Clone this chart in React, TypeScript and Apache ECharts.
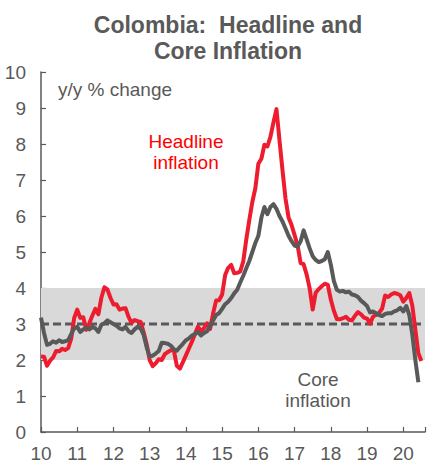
import React, { useEffect, useRef } from "react";
import * as echarts from "echarts";

// Monthly y/y inflation, starting January 2010
const startYear = 2010;

const headline = [
  2.10, 2.09, 1.84, 1.98, 2.07, 2.25, 2.24, 2.31, 2.28, 2.33, 2.59, 3.17,
  3.40, 3.17, 3.19, 2.84, 3.02, 3.23, 3.42, 3.27, 3.73, 4.02, 3.96, 3.73,
  3.54, 3.55, 3.40, 3.43, 3.44, 3.20, 3.03, 3.11, 3.08, 3.06, 2.77, 2.44,
  2.00, 1.83, 1.91, 2.02, 2.00, 2.16, 2.22, 2.27, 2.27, 1.84, 1.76, 1.94,
  2.13, 2.32, 2.51, 2.72, 2.93, 2.79, 2.89, 3.02, 2.86, 3.29, 3.65, 3.66,
  3.82, 4.36, 4.56, 4.64, 4.41, 4.42, 4.46, 4.74, 5.35, 5.89, 6.39, 6.77,
  7.45, 7.59, 7.98, 7.93, 8.20, 8.60, 8.97, 8.10, 7.27, 6.48, 5.96, 5.75,
  5.47, 5.18, 4.69, 4.66, 4.37, 3.99, 3.40, 3.87, 3.97, 4.05, 4.12, 4.09,
  3.68, 3.37, 3.14, 3.13, 3.16, 3.20, 3.12, 3.10, 3.23, 3.33, 3.27, 3.18,
  3.15, 3.01, 3.21, 3.25, 3.31, 3.43, 3.79, 3.75, 3.82, 3.86, 3.84, 3.80,
  3.62, 3.72, 3.86, 3.51, 2.85, 2.19, 1.97,
];

const core = [
  3.18, 2.75, 2.42, 2.45, 2.52, 2.48, 2.55, 2.50, 2.52, 2.55, 2.72, 2.88,
  2.92, 2.78, 2.85, 2.90, 2.85, 2.92, 2.88, 2.78, 2.98, 3.02, 3.10, 3.05,
  3.00, 2.95, 2.88, 2.85, 2.92, 2.80, 2.75, 2.85, 2.92, 2.88, 2.70, 2.35,
  2.10, 2.12, 2.18, 2.25, 2.48, 2.47, 2.45, 2.40, 2.30, 2.26, 2.36, 2.45,
  2.55, 2.60, 2.68, 2.72, 2.78, 2.68, 2.75, 2.80, 2.95, 3.10, 3.25, 3.30,
  3.42, 3.55, 3.62, 3.72, 3.85, 3.95, 4.15, 4.34, 4.55, 4.75, 5.00, 5.25,
  5.45, 5.95, 6.25, 6.05, 6.25, 6.33, 6.20, 6.00, 5.85, 5.65, 5.45, 5.30,
  5.18, 5.15, 5.30, 5.60, 5.35, 5.10, 4.88, 4.78, 4.72, 4.75, 4.80, 5.00,
  4.65, 4.20, 3.95, 3.90, 3.92, 3.88, 3.90, 3.82, 3.80, 3.75, 3.65, 3.58,
  3.50, 3.32, 3.35, 3.30, 3.25, 3.22, 3.28, 3.30, 3.30, 3.35, 3.38, 3.45,
  3.35, 3.50, 3.25, 2.70, 2.00, 1.38,
];

// Central bank target: 3% midpoint inside a 2–4% range
const targetBand = [2, 4];
const targetMid = 3;

const xMin = 2010;
const xMax = 2020.6;

const GRAY = "#595959";
const RED_LINE = "#ed1c2e";
const RED_TEXT = "#ff0000";
const FONT = "'Liberation Sans', Arial, sans-serif";

const toPoints = (vals: number[]) =>
  vals.map((v, i) => [startYear + i / 12, v]);

export default function App() {
  const ref = useRef<HTMLDivElement>(null);

  useEffect(() => {
    if (!ref.current) return;
    const chart = echarts.init(ref.current, undefined, { renderer: "svg" });

    chart.setOption({
      animation: false,
      backgroundColor: "#ffffff",
      grid: { left: 41, right: 0, top: 72, bottom: 30 },
      xAxis: {
        type: "value",
        min: xMin,
        max: xMax,
        interval: 1,
        axisLine: { show: true, onZero: false, lineStyle: { color: GRAY, width: 1.5 } },
        axisTick: { show: true, inside: true, length: 5, lineStyle: { color: GRAY, width: 1.2 } },
        axisLabel: {
          color: GRAY,
          fontSize: 19,
          fontFamily: FONT,
          margin: 12,
          formatter: (v: number) =>
            Math.abs(v - Math.round(v)) < 1e-6 ? String(Math.round(v) - 2000) : "",
        },
        splitLine: { show: false },
      },
      yAxis: {
        type: "value",
        min: 0,
        max: 10,
        interval: 1,
        axisLine: { show: true, lineStyle: { color: GRAY, width: 1.5 } },
        axisTick: { show: true, inside: true, length: 5, lineStyle: { color: GRAY, width: 1.2 } },
        axisLabel: { color: GRAY, fontSize: 19, fontFamily: FONT, margin: 15 },
        splitLine: { show: false },
      },
      series: [
        {
          name: "Target",
          type: "line",
          z: 1,
          silent: true,
          symbol: "none",
          data: [
            [xMin, targetMid],
            [xMax, targetMid],
          ],
          lineStyle: { color: GRAY, width: 3, type: [8, 4] },
          markArea: {
            silent: true,
            itemStyle: { color: "#d9d9d9" },
            data: [[{ yAxis: targetBand[0] }, { yAxis: targetBand[1] }]],
          },
        },
        {
          name: "Headline inflation",
          type: "line",
          z: 3,
          symbol: "none",
          data: toPoints(headline),
          lineStyle: { color: RED_LINE, width: 4, join: "round" },
        },
        {
          name: "Core inflation",
          type: "line",
          z: 4,
          symbol: "none",
          data: toPoints(core),
          lineStyle: { color: GRAY, width: 4, join: "round" },
        },
      ],
      graphic: [
        {
          type: "text",
          x: 228,
          y: 25,
          style: {
            text: "Colombia:  Headline and",
            font: `bold 23px ${FONT}`,
            fill: GRAY,
            textAlign: "center",
            textVerticalAlign: "middle",
          },
        },
        {
          type: "text",
          x: 228,
          y: 51,
          style: {
            text: "Core Inflation",
            font: `bold 23px ${FONT}`,
            fill: GRAY,
            textAlign: "center",
            textVerticalAlign: "middle",
          },
        },
        {
          type: "text",
          x: 58,
          y: 89,
          style: {
            text: "y/y % change",
            font: `19px ${FONT}`,
            fill: GRAY,
            textAlign: "left",
            textVerticalAlign: "middle",
          },
        },
        {
          type: "text",
          x: 186,
          y: 141,
          style: {
            text: "Headline",
            font: `19px ${FONT}`,
            fill: RED_TEXT,
            textAlign: "center",
            textVerticalAlign: "middle",
          },
        },
        {
          type: "text",
          x: 186,
          y: 162,
          style: {
            text: "inflation",
            font: `19px ${FONT}`,
            fill: RED_TEXT,
            textAlign: "center",
            textVerticalAlign: "middle",
          },
        },
        {
          type: "text",
          x: 318,
          y: 379,
          style: {
            text: "Core",
            font: `19px ${FONT}`,
            fill: GRAY,
            textAlign: "center",
            textVerticalAlign: "middle",
          },
        },
        {
          type: "text",
          x: 318,
          y: 400,
          style: {
            text: "inflation",
            font: `19px ${FONT}`,
            fill: GRAY,
            textAlign: "center",
            textVerticalAlign: "middle",
          },
        },
      ],
    });

    return () => chart.dispose();
  }, []);

  return (
    <div
      ref={ref}
      style={{ position: "fixed", left: 0, top: 0, width: 428, height: 463 }}
    />
  );
}
